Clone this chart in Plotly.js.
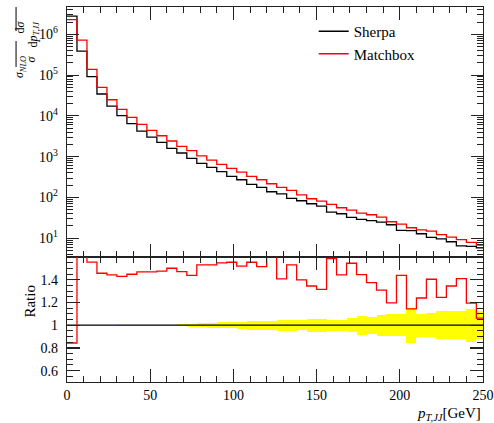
<!DOCTYPE html>
<html><head><meta charset="utf-8">
<script src="https://cdn.plot.ly/plotly-3.0.1.min.js"></script>
<style>html,body{margin:0;padding:0;background:#fff;}#chart{width:494px;height:423px;}</style>
</head><body><div id="chart"></div>
<script>
// bin low edges (GeV), width 6
const binLow = [0,6,12,18,24,30,36,42,48,54,60,66,72,78,84,90,96,102,108,114,120,126,132,138,144,150,156,162,168,174,180,186,192,198,204,210,216,222,228,234,240,246];
const binWidth = 6;
const sherpa = [2.81e6,3.89e5,9.14e4,3.44e4,1.74e4,1.01e4,6430,4250,3030,2240,1600,1230,908,684,546,428,328,272,209,176,138,123,94.8,83,70,61.5,43.8,39.8,32.4,29,26.9,24.9,21.4,15.6,15.3,12.9,10.5,9.7,8.2,6.5,6.3,5.8];
const matchbox = [2.29e6,7.24e5,1.38e5,5.0e4,2.49e4,1.45e4,9200,6190,4410,3260,2420,1790,1400,1050,826,647,516,419,328,272,217,176,149,116,93,81.5,67.6,56,49,41.4,37.7,33,25.4,22.2,18.1,16.1,15.0,12.2,10.7,9.2,7.9,6.8];
const ratio = [0.843,1.86,1.555,1.457,1.442,1.430,1.448,1.469,1.469,1.475,1.501,1.472,1.439,1.531,1.531,1.548,1.554,1.519,1.554,1.516,1.61,1.407,1.531,1.398,1.345,1.315,1.587,1.442,1.545,1.445,1.374,1.309,1.197,1.439,1.144,1.239,1.404,1.245,1.345,1.410,1.194,1.062];
const sherpaErr = [0.001,0.001,0.002,0.002,0.002,0.003,0.003,0.003,0.004,0.005,0.006,0.008,0.014,0.018,0.022,0.026,0.027,0.03,0.04,0.04,0.04,0.049,0.049,0.046,0.058,0.058,0.05,0.047,0.062,0.083,0.074,0.093,0.096,0.097,0.153,0.102,0.108,0.125,0.121,0.121,0.145,0.125];
const xTickVals = [0,50,100,150,200,250];
const logTickVals = [10,100,1000,10000,100000,1000000];
const logTickText = ['10<sup>1</sup>','10<sup>2</sup>','10<sup>3</sup>','10<sup>4</sup>','10<sup>5</sup>','10<sup>6</sup>'];
const ratioTickVals = [0.6,0.8,1,1.2,1.4];
const ratioTickText = ['0.6','0.8','1','1.2','1.4'];
const seriesNames = ['Sherpa','Matchbox'];

const edges = binLow.concat([binLow[binLow.length-1]+binWidth]);
const stepY = arr => arr.concat([arr[arr.length-1]]);
const centers = binLow.map(v => v + binWidth/2);
const refRatio = sherpa.map(v => v / v);

const FONT = 'Liberation Serif, DejaVu Serif, serif';
const traces = [
  {x: centers, y: sherpaErr.map(e => 2*e), base: sherpaErr.map(e => 1 - e), type:'bar', width: binWidth,
   marker:{color:'#ffff00', line:{width:0}}, xaxis:'x2', yaxis:'y2', showlegend:false, hoverinfo:'skip'},
  {x: edges, y: stepY(refRatio), mode:'lines', line:{shape:'hv', color:'#000', width:1.2}, xaxis:'x2', yaxis:'y2', showlegend:false},
  {x: edges, y: stepY(ratio), mode:'lines', line:{shape:'hv', color:'#ff0000', width:1.3}, xaxis:'x2', yaxis:'y2', showlegend:false},
  {x: edges, y: stepY(sherpa), name: seriesNames[0], mode:'lines', line:{shape:'hv', color:'#000', width:1.3}, xaxis:'x', yaxis:'y'},
  {x: edges, y: stepY(matchbox), name: seriesNames[1], mode:'lines', line:{shape:'hv', color:'#ff0000', width:1.3}, xaxis:'x', yaxis:'y'}
];

const logMinor = [];
for (let d = 0; d <= 6; d++) for (let m = 2; m <= 9; m++) logMinor.push(m * Math.pow(10, d));

const axCommon = {showline:true, linecolor:'#222', linewidth:1.3, mirror:'allticks', ticks:'inside', tickcolor:'#222', tickwidth:1.2, showgrid:false, zeroline:false};
const L = 67, R = 483.5, T = 7, B = 382, W = 494, H = 423;
const px = x => (x - L) / (R - L);
const py = y => (B - y) / (B - T);

const layout = {
  width: W, height: H,
  margin: {l: L, r: W - R, t: T, b: H - B, pad: 0},
  paper_bgcolor:'#fff', plot_bgcolor:'#fff',
  font: {family: FONT, size: 13, color:'#000'},
  showlegend: true,
  legend: {x: px(314), y: py(15), xanchor:'left', yanchor:'top', bgcolor:'rgba(0,0,0,0)', font:{family:FONT, size:15}, itemwidth:30, tracegroupgap:0},
  bargap: 0,
  xaxis: Object.assign({}, axCommon, {anchor:'y', range:[0,250], tickvals:xTickVals, ticklen:13, showticklabels:false,
     minor:{dtick:10, tick0:0, ticklen:6, ticks:'inside', tickcolor:'#222', tickwidth:1}}),
  xaxis2: Object.assign({}, axCommon, {anchor:'y2', range:[0,250], tickvals:xTickVals, ticklen:13, showticklabels:true,
     ticklabelstandoff: 0, tickfont:{family:FONT, size:14},
     minor:{dtick:10, tick0:0, ticklen:6, ticks:'inside', tickcolor:'#222', tickwidth:1}}),
  yaxis: Object.assign({}, axCommon, {anchor:'x', domain:[1/3, 1], type:'log', range:[0.54, 6.67], tickvals:logTickVals, ticktext:logTickText,
     ticklen:12, tickfont:{family:FONT, size:14}, ticklabelstandoff: 5,
     minor:{tickvals: logMinor, ticklen:6, ticks:'inside', tickcolor:'#222', tickwidth:1}}),
  yaxis2: Object.assign({}, axCommon, {anchor:'x2', domain:[0, 1/3], range:[0.5, 1.6], tickvals:ratioTickVals, ticktext:ratioTickText,
     ticklen:13, tickfont:{family:FONT, size:14}, ticklabelstandoff: 5,
     minor:{dtick:0.05, tick0:0.5, ticklen:6, ticks:'inside', tickcolor:'#222', tickwidth:1}}),
  annotations: [
    {text:'Ratio', xref:'paper', yref:'paper', x:px(19), y:py(320), textangle:-90, showarrow:false, font:{family:FONT, size:15}},
    {text:'<i>p</i><sub><i>T,JJ</i></sub>[GeV]', xref:'paper', yref:'paper', x:px(482), y:py(404), xanchor:'right', yanchor:'top', showarrow:false, borderpad:0, font:{family:FONT, size:15}},
    {text:'<i>σ</i><sub><i>NLO</i></sub>', xref:'paper', yref:'paper', x:px(10), y:py(54), textangle:-90, showarrow:false, font:{family:FONT, size:12}},
    {text:'<i>σ</i>', xref:'paper', yref:'paper', x:px(22), y:py(54), textangle:-90, showarrow:false, font:{family:FONT, size:12}},
    {text:'d<i>σ</i>', xref:'paper', yref:'paper', x:px(10), y:py(19), textangle:-90, showarrow:false, font:{family:FONT, size:12}},
    {text:'d<i>p</i><sub><i>T,JJ</i></sub>', xref:'paper', yref:'paper', x:px(23), y:py(19), textangle:-90, showarrow:false, font:{family:FONT, size:12}}
  ],
  shapes: [
    {type:'line', xref:'paper', yref:'paper', x0:px(16), x1:px(16), y0:py(41), y1:py(67), line:{color:'#000', width:1}},
    {type:'line', xref:'paper', yref:'paper', x0:px(16), x1:px(16), y0:py(7), y1:py(31), line:{color:'#000', width:1}}
  ]
};
Plotly.newPlot('chart', traces, layout, {displayModeBar:false, staticPlot:true});
</script></body></html>
